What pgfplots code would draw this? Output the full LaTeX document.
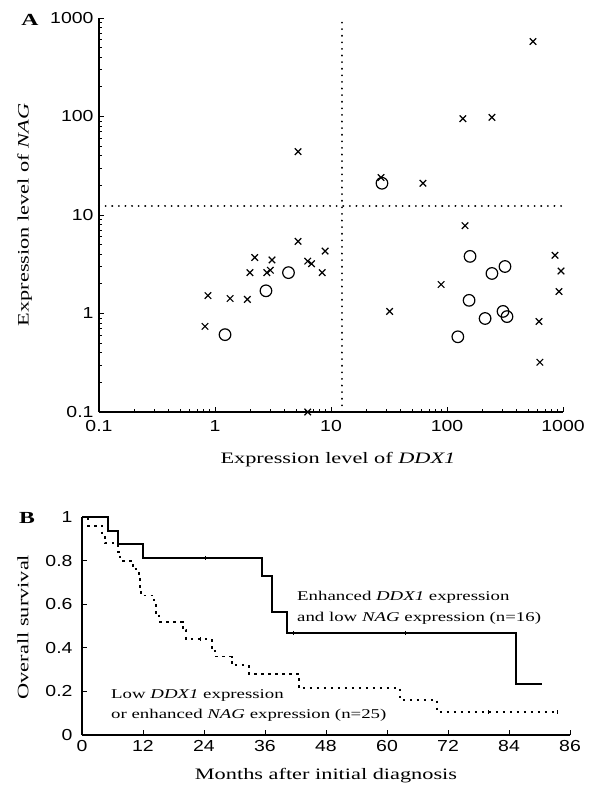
\documentclass[border=0pt]{standalone}
\usepackage{pgfplots}
\pgfplotsset{compat=1.18}
\usepackage{fontspec}
\setmainfont{Liberation Serif}[FakeStretch=1.4]
\newfontfamily\sansfont{Liberation Sans}[FakeStretch=1.22]
\begin{document}
\begin{tikzpicture}
\useasboundingbox (0bp,0bp) rectangle (594bp,792bp);
% ---------------- Panel A ----------------
\begin{axis}[
  at={(99bp,380bp)}, anchor=south west, scale only axis,
  width=464bp, height=394bp,
  xmode=log, ymode=log,
  xmin=0.1, xmax=1000, ymin=0.1, ymax=1000,
  axis x line*=bottom, axis y line*=left,
  axis line style={line width=1.2bp, -},
  tick align=inside, major tick length=5bp, minor tick length=3bp,
  every tick/.style={black, line width=0.8bp},
  xtick={0.1,1,10,100,1000}, xticklabels={\mbox{0.1},\mbox{1},\mbox{10},\mbox{100},\mbox{1000}},
  ytick={0.1,1,10,100,1000}, yticklabels={\mbox{0.1},\mbox{1},\mbox{10},\mbox{100},\mbox{1000}},
  tick label style={font=\sansfont\fontsize{16}{16}\selectfont},
  xticklabel style={yshift=-5bp},
  yticklabel style={xshift=-2bp},
  xlabel={Expression level of \textit{DDX1}},
  ylabel={Expression level of \textit{NAG}},
  label style={font=\fontsize{16}{16}\selectfont},
  xlabel style={at={(axis description cs:0.515,-0.122)}, anchor=center},
  ylabel style={at={(axis description cs:-0.16,0.5)}, anchor=center},
  clip=false,
]
\addplot[black, line width=2bp, dash pattern=on 0.1bp off 6.5bp, line cap=round] coordinates {(0.1,12.2) (1000,12.2)};
\addplot[black, line width=2bp, dash pattern=on 0.1bp off 6.5bp, line cap=round] coordinates {(12.4,0.1) (12.4,900)};
% crosses
\addplot[only marks, mark=x, mark size=4.6bp, mark options={line width=1.2bp, black}] coordinates {
(5.2,44) (5.2,5.4) (8.9,4.3) (2.2,3.7) (3.1,3.5) (2.0,2.6) (2.8,2.6) (3.0,2.75)
(6.3,3.4) (6.8,3.2) (8.4,2.6) (0.87,1.52) (1.35,1.42) (1.9,1.39) (0.82,0.74) (6.3,0.1)
(551,577) (137,95) (244,98) (27,24) (62,21)
(143,7.8) (853,3.9) (961,2.7) (89,1.97) (924,1.67) (32,1.05) (621,0.83) (632,0.32)
};
% circles
\addplot[only marks, mark=o, mark size=5.8bp, mark options={line width=1.2bp, black}] coordinates {
(27.5,21) (4.3,2.6) (2.75,1.7) (1.22,0.61)
(158,3.8) (244,2.55) (316,3.0) (155,1.36) (304,1.05) (329,0.93) (213,0.89) (124,0.58)
};
\end{axis}
% ---------------- Panel B ----------------
\begin{axis}[
  at={(82bp,57bp)}, anchor=south west, scale only axis,
  width=488bp, height=218bp,
  xmin=0, xmax=96, ymin=0, ymax=1,
  axis x line*=bottom, axis y line*=left,
  axis line style={line width=1.2bp, -},
  tick align=inside, major tick length=5bp,
  every tick/.style={black, line width=0.8bp},
  xtick={0,12,24,36,48,60,72,84,96},
  xticklabels={\mbox{0},\mbox{12},\mbox{24},\mbox{36},\mbox{48},\mbox{60},\mbox{72},\mbox{84},\mbox{86}},
  ytick={0,0.2,0.4,0.6,0.8,1},
  yticklabels={\mbox{0},\mbox{0.2},\mbox{0.4},\mbox{0.6},\mbox{0.8},\mbox{1}},
  tick label style={font=\sansfont\fontsize{16}{16}\selectfont},
  xticklabel style={yshift=-2bp},
  yticklabel style={xshift=-6bp},
  xlabel={Months after initial diagnosis},
  ylabel={Overall survival},
  label style={font=\fontsize{16}{16}\selectfont},
  xlabel style={at={(axis description cs:0.5,-0.185)}, anchor=center},
  ylabel style={at={(axis description cs:-0.121,0.495)}, anchor=center},
  clip=false,
]
\addplot[const plot, black, line width=1.8bp] coordinates {
(0,1) (5.1,0.9375) (7.1,0.875) (12,0.8125) (35.4,0.729) (37.4,0.5625) (40.3,0.4688) (85.3,0.234) (90.5,0.234)
};
\addplot[const plot, black, line width=1.9bp, dash pattern=on 2.5bp off 4.5bp] coordinates {
(0,1) (1.2,0.96) (4,0.92) (4.5,0.88) (7,0.84) (7.5,0.80) (10,0.76) (11.2,0.72) (11.4,0.68) (11.6,0.64)
(14.2,0.60) (14.5,0.56) (15.2,0.52) (19.8,0.48) (20.5,0.44) (25.5,0.40) (26.2,0.36) (29.5,0.32)
(32.8,0.28) (42.6,0.215) (62.6,0.16) (69.9,0.105) (93.5,0.105)
};
% censor marks
\addplot[only marks, mark=|, mark size=2bp, mark options={line width=0.8bp, black}] coordinates {
(24.2,0.8125) (41.5,0.4688) (63.6,0.4688) (23.3,0.44) (80,0.105) (93.5,0.105)
};
\end{axis}
% panel letters and annotations
\node[font=\bfseries\fontsize{17}{17}\selectfont] at (30bp,772bp) {A};
\node[font=\bfseries\fontsize{17}{17}\selectfont] at (27bp,274bp) {B};
\node[anchor=base west, inner sep=0, font=\fontsize{13.5}{13.5}\selectfont] at (297bp,191bp) {Enhanced \textit{DDX1} expression};
\node[anchor=base west, inner sep=0, font=\fontsize{13.5}{13.5}\selectfont] at (297bp,170bp) {and low \textit{NAG} expression (n=16)};
\node[anchor=base west, inner sep=0, font=\fontsize{13.5}{13.5}\selectfont] at (111bp,93bp) {Low \textit{DDX1} expression};
\node[anchor=base west, inner sep=0, font=\fontsize{13.5}{13.5}\selectfont] at (111bp,73bp) {or enhanced \textit{NAG} expression (n=25)};
\end{tikzpicture}
\end{document}
